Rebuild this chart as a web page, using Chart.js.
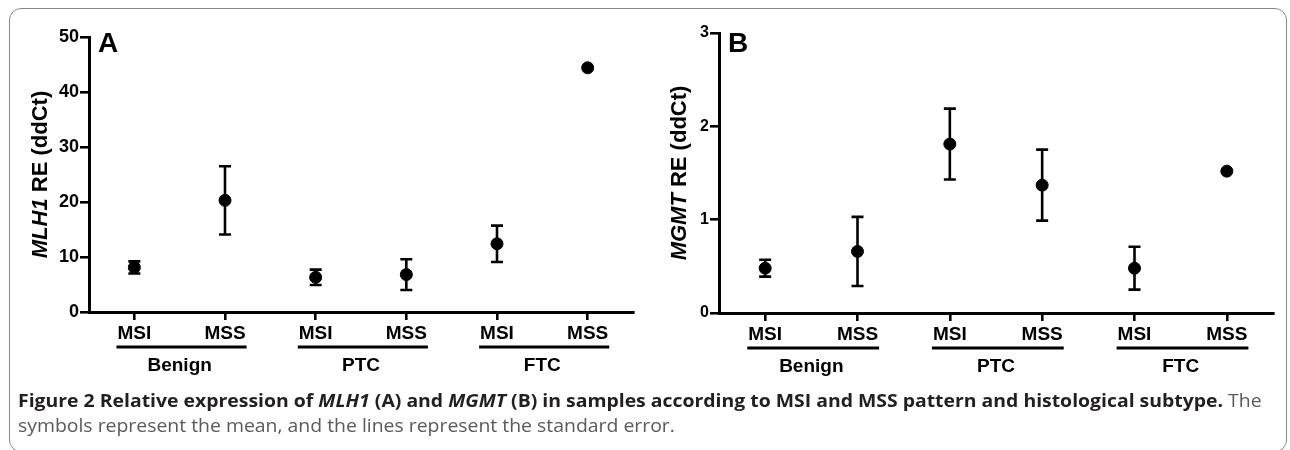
<!DOCTYPE html>
<html>
<head>
<meta charset="utf-8">
<script src="https://cdn.jsdelivr.net/npm/chart.js@4.4.1/dist/chart.umd.min.js"></script>
<style>
body{margin:0;background:#fff;width:1290px;height:450px;overflow:hidden;position:relative;font-family:"Liberation Sans",Arial,sans-serif}
#frame{position:absolute;left:9px;top:8px;width:1278px;height:444px;border:1px solid #8a8a8a;border-radius:12px;box-sizing:border-box}
.box{position:absolute;top:0;width:645px;height:390px}
#caption{position:absolute;left:18px;top:388px;font-family:"Open Sans",sans-serif;font-size:18px;color:#5a5a5a;white-space:nowrap;transform-origin:0 0;line-height:25px}
#caption b{color:#231f20}
</style>
</head>
<body>
<div id="frame"></div>
<div class="box" style="left:0"><canvas id="chartA" width="645" height="390"></canvas></div>
<div class="box" style="left:645px"><canvas id="chartB" width="645" height="390"></canvas></div>
<div id="caption"><div id="cap1"><b>Figure 2 Relative expression of <i>MLH1</i> (A) and <i>MGMT</i> (B) in samples according to MSI and MSS pattern and histological subtype.</b> The</div><div>symbols represent the mean, and the lines represent the standard error.</div></div>
<script>
// data
var categories = ['MSI', 'MSS', 'MSI', 'MSS', 'MSI', 'MSS'];
var groups = ['Benign', 'PTC', 'FTC'];
var mlh1Mean = [8.1, 20.3, 6.3, 6.8, 12.4, 44.4];
var mlh1Err = [1.1, 6.2, 1.4, 2.8, 3.3, 0];
var mgmtMean = [0.48, 0.66, 1.81, 1.37, 0.48, 1.52];
var mgmtErr = [0.09, 0.37, 0.38, 0.38, 0.23, 0];
var mlh1Ticks = {min: 0, max: 50, step: 10};
var mgmtTicks = {min: 0, max: 3, step: 1};

var FONT = '"Liberation Sans", Arial, sans-serif';

var extras = {
  id: 'extras',
  afterDatasetsDraw: function(chart) {
    var ctx = chart.ctx, y = chart.scales.y, x = chart.scales.x;
    var o = chart.options.plugins.extras;
    var meta = chart.getDatasetMeta(0);
    var errs = chart.data.datasets[0].errors;
    var vals = chart.data.datasets[0].data;
    ctx.save();
    ctx.strokeStyle = '#000';
    ctx.lineWidth = 2.6;
    // error bars
    meta.data.forEach(function(pt, i) {
      if (!errs[i]) return;
      var top = y.getPixelForValue(vals[i] + errs[i]);
      var bot = y.getPixelForValue(vals[i] - errs[i]);
      ctx.beginPath();
      ctx.moveTo(pt.x, top); ctx.lineTo(pt.x, bot);
      ctx.moveTo(pt.x - 6, top); ctx.lineTo(pt.x + 6, top);
      ctx.moveTo(pt.x - 6, bot); ctx.lineTo(pt.x + 6, bot);
      ctx.stroke();
    });
    // group underlines and names
    ctx.font = 'bold 19px ' + FONT;
    ctx.fillStyle = '#000';
    ctx.textAlign = 'center';
    ctx.textBaseline = 'middle';
    groups.forEach(function(g, k) {
      var i0 = 2 * k, i1 = 2 * k + 1;
      var p0 = x.getPixelForTick(i0), p1 = x.getPixelForTick(i1);
      var l = p0 - ctx.measureText(categories[i0]).width / 2 - 1;
      var r = p1 + ctx.measureText(categories[i1]).width / 2 + 1;
      ctx.lineWidth = 3;
      ctx.beginPath();
      ctx.moveTo(l, x.top + 35); ctx.lineTo(r, x.top + 35);
      ctx.stroke();
      ctx.fillText(g, (p0 + p1) / 2, x.top + 54);
    });
    // panel letter
    ctx.textAlign = 'left';
    ctx.textBaseline = 'alphabetic';
    ctx.font = 'bold 28px ' + FONT;
    ctx.fillText(o.letter, chart.chartArea.left + 9, 52);
    // y title, gene name in italics
    ctx.translate(o.titleX, (chart.chartArea.top + chart.chartArea.bottom) / 2);
    ctx.rotate(-Math.PI / 2);
    ctx.textBaseline = 'middle';
    ctx.font = 'italic bold 22px ' + FONT;
    var w1 = ctx.measureText(o.gene).width;
    ctx.font = 'bold 22px ' + FONT;
    var rest = ' RE (ddCt)';
    var w2 = ctx.measureText(rest).width;
    var sx = -(w1 + w2) / 2;
    ctx.font = 'italic bold 22px ' + FONT;
    ctx.fillText(o.gene, sx, 0);
    ctx.font = 'bold 22px ' + FONT;
    ctx.fillText(rest, sx + w1, 0);
    ctx.restore();
  }
};

function makeChart(id, means, errs, ticks, opt) {
  return new Chart(document.getElementById(id), {
    type: 'line',
    data: {
      labels: categories,
      datasets: [{
        data: means,
        errors: errs,
        showLine: false,
        pointRadius: 6,
        pointBackgroundColor: '#000',
        pointBorderColor: '#000',
        clip: false
      }]
    },
    plugins: [extras],
    options: {
      responsive: false,
      animation: false,
      layout: {padding: opt.padding},
      plugins: {
        legend: {display: false},
        tooltip: {enabled: false},
        extras: {letter: opt.letter, gene: opt.gene, titleX: opt.titleX}
      },
      scales: {
        x: {
          offset: true,
          grid: {drawOnChartArea: false, offset: false, tickLength: 8, color: '#000', lineWidth: 2.6},
          border: {color: '#000', width: 3},
          ticks: {color: '#000', padding: 2, font: {family: FONT, size: 19, weight: 'bold'}},
          afterFit: function(s) { s.height = opt.xHeight; }
        },
        y: {
          min: ticks.min, max: ticks.max,
          grid: {drawOnChartArea: false, tickLength: 9, color: '#000', lineWidth: 2.6},
          border: {color: '#000', width: 3},
          ticks: {stepSize: ticks.step, color: '#000', padding: 1, font: {family: FONT, size: opt.tickSize, weight: 'bold'}},
          afterFit: function(s) { s.width = opt.yWidth; }
        }
      }
    }
  });
}

makeChart('chartA', mlh1Mean, mlh1Err, mlh1Ticks,
  {padding: {left: 0, top: 37, right: 12, bottom: 0}, yWidth: 89, xHeight: 78, tickSize: 18, letter: 'A', gene: 'MLH1', titleX: 41});
makeChart('chartB', mgmtMean, mgmtErr, mgmtTicks,
  {padding: {left: 0, top: 33, right: 17, bottom: 0}, yWidth: 74, xHeight: 77, tickSize: 16, letter: 'B', gene: 'MGMT', titleX: 35});

// squeeze caption to the width it has in the figure
var cap = document.getElementById('caption');
var w = document.getElementById('cap1').scrollWidth;
cap.style.transform = 'scaleX(' + (1244 / w) + ')';
</script>
</body>
</html>
